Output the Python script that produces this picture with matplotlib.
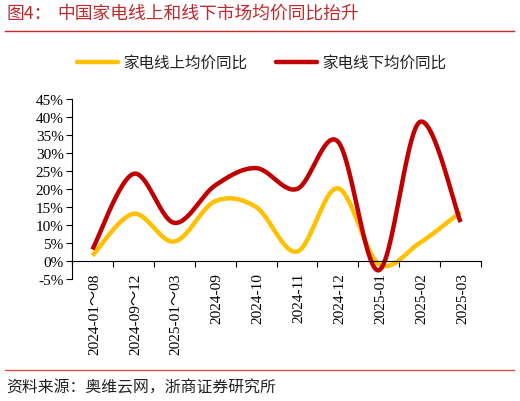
import numpy as np
import matplotlib

matplotlib.use("Agg")

import matplotlib.pyplot as plt
from matplotlib.lines import Line2D


categories = [
    "2024-01～08", "2024-09～12", "2025-01～03", "2024-09", "2024-10",
    "2024-11", "2024-12", "2025-01", "2025-02", "2025-03",
]
online_yoy = [1.5, 13.1, 5.4, 16.6, 15.0, 2.6, 20.2, -0.8, 5.0, 13.6]
offline_yoy = [3.2, 24.2, 10.6, 21.0, 25.8, 20.0, 33.2, -2.6, 38.6, 10.8]
y_ticks = list(range(-5, 50, 5))

YELLOW = "#FFC000"
RED = "#C00000"
TITLE_RED = "#C0282D"
CJK = ["Noto Sans CJK SC", "DejaVu Sans"]
SERIF = ["Liberation Serif", "Noto Sans CJK SC"]


def smooth(values, steps=30):
    # Excel-style smoothed line: cubic bezier through points
    pts = np.array([[i, v] for i, v in enumerate(values)], dtype=float)
    padded = np.vstack([pts[0], pts, pts[-1]])
    xs, ys = [], []
    t = np.linspace(0, 1, steps)
    for i in range(len(pts) - 1):
        p0, p1, p2, p3 = padded[i], padded[i + 1], padded[i + 2], padded[i + 3]
        c1 = p1 + (p2 - p0) / 6
        c2 = p2 - (p3 - p1) / 6
        seg = ((1 - t) ** 3)[:, None] * p1 + (3 * (1 - t) ** 2 * t)[:, None] * c1 \
            + (3 * (1 - t) * t ** 2)[:, None] * c2 + (t ** 3)[:, None] * p2
        xs.extend(seg[:, 0])
        ys.extend(seg[:, 1])
    return xs, ys


fig = plt.figure(figsize=(5.2, 4.02), dpi=100)
fig.patch.set_facecolor("white")

ax = fig.add_axes([72 / 520, 1 - 280 / 402, 409 / 520, 180 / 402])
ax.set_xlim(-0.5, len(categories) - 0.5)
ax.set_ylim(-5, 45)

for values, color in [(online_yoy, YELLOW), (offline_yoy, RED)]:
    xs, ys = smooth(values)
    ax.plot(xs, ys, color=color, linewidth=3.2, solid_capstyle="butt", clip_on=False)

ax.spines["top"].set_visible(False)
ax.spines["right"].set_visible(False)
ax.spines["bottom"].set_position(("data", 0))
ax.spines["left"].set_linewidth(0.8)
ax.spines["bottom"].set_linewidth(0.8)

ax.set_yticks(y_ticks)
ax.set_yticklabels([f"{v}%" for v in y_ticks], fontfamily="Liberation Serif", fontsize=11)
ax.tick_params(axis="y", direction="out", length=4, width=0.8, pad=2)

ax.set_xticks(np.arange(-0.5, len(categories), 1.0))
ax.set_xticklabels([])
ax.tick_params(axis="x", direction="out", length=4, width=0.8)

for i, label in enumerate(categories):
    ax.text(i + 0.05, -3.1, label, rotation=90, ha="center", va="top",
            fontsize=11, family=SERIF)

# title, separators, legend and source
fig.text(6 / 520, 1 - 14 / 402, "图4：", color=TITLE_RED, fontsize=12.8,
         family=CJK, va="center", ha="left")
fig.text(57 / 520, 1 - 14 / 402, "中国家电线上和线下市场均价同比抬升", color=TITLE_RED,
         fontsize=12.8, family=CJK, va="center", ha="left")
fig.add_artist(Line2D([5 / 520, 514 / 520], [1 - 31.5 / 402] * 2, color=TITLE_RED, linewidth=1))
fig.add_artist(Line2D([5 / 520, 514 / 520], [1 - 371 / 402] * 2, color="#D9534F", linewidth=1))

legend_y = 1 - 63 / 402
for x0, color, text in [(77, YELLOW, "家电线上均价同比"), (276, RED, "家电线下均价同比")]:
    fig.add_artist(Line2D([x0 / 520, (x0 + 41) / 520], [legend_y] * 2, color=color,
                          linewidth=3.2, solid_capstyle="round"))
    fig.text((x0 + 46) / 520, legend_y, text, fontsize=11.2, family=CJK,
             va="center", ha="left", color="#222222")

fig.text(6 / 520, 1 - 388 / 402, "资料来源：奥维云网，浙商证券研究所", fontsize=11.4,
         family=CJK, va="center", ha="left", color="#222222")

fig.savefig("out.png", dpi=100, facecolor="white")
